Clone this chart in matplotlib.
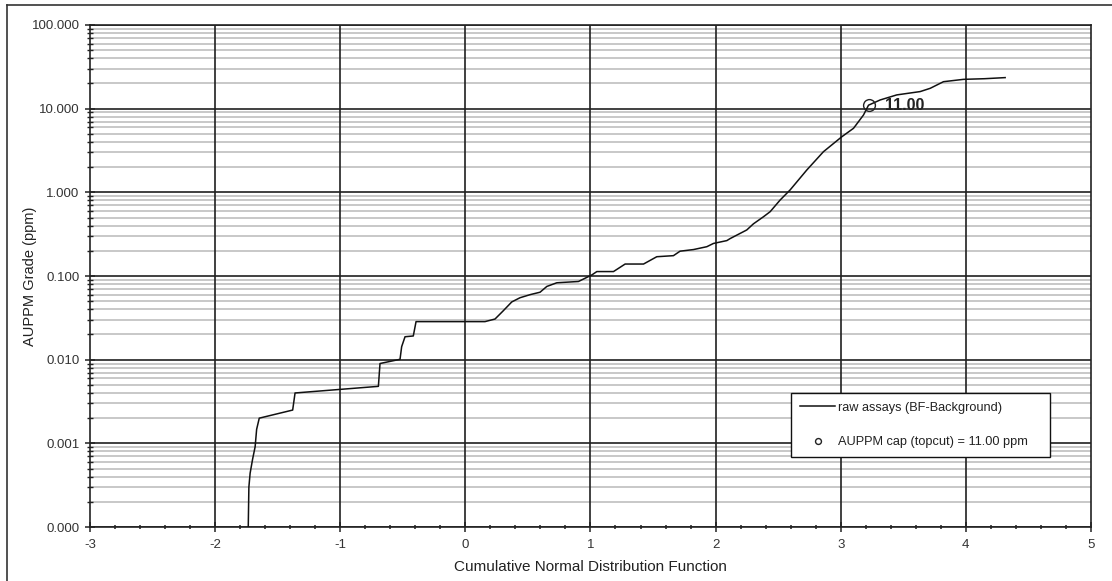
"""Log-probability plot of raw AUPPM assays with the topcut value marked."""
import matplotlib
matplotlib.use("Agg")
import numpy as np
import matplotlib.pyplot as plt
from matplotlib.lines import Line2D
from matplotlib.ticker import FixedLocator, FuncFormatter, LogLocator, NullFormatter

plt.rcParams["font.family"] = ["Liberation Sans", "DejaVu Sans"]
plt.rcParams["axes.unicode_minus"] = False

# curve (cumulative normal score, grade in ppm)
cnd = [-1.735, -1.730, -1.720, -1.700, -1.680, -1.668, -1.647, -1.380, -1.361,
       -0.695, -0.682, -0.522, -0.509, -0.482, -0.416, -0.394, 0.157, 0.237,
       0.300, 0.371, 0.437, 0.520, 0.597, 0.651, 0.731, 0.904, 1.011, 1.051,
       1.184, 1.277, 1.424, 1.530, 1.663, 1.716, 1.823, 1.930, 1.983, 2.090,
       2.116, 2.249, 2.302, 2.382, 2.436, 2.516, 2.596, 2.729, 2.862, 3.009,
       3.102, 3.182, 3.222, 3.315, 3.448, 3.635, 3.715, 3.821, 3.981, 4.150,
       4.314]
grade = [0.0001, 0.00030, 0.00044, 0.00065, 0.00091, 0.00147, 0.0020, 0.0025,
         0.0040, 0.0048, 0.0090, 0.0101, 0.0143, 0.0188, 0.0192, 0.0285, 0.0285,
         0.0306, 0.038, 0.049, 0.055, 0.060, 0.064, 0.075, 0.083, 0.086, 0.103,
         0.113, 0.113, 0.139, 0.139, 0.170, 0.175, 0.198, 0.207, 0.224, 0.245,
         0.265, 0.280, 0.355, 0.420, 0.510, 0.587, 0.810, 1.07, 1.85, 3.06, 4.62,
         5.82, 8.40, 11.0, 12.7, 14.6, 16.0, 17.5, 21.0, 22.4, 22.8, 23.5]

CAP_X = 3.222
CAP_VALUE = 11.0

X_TICKS = [-3, -2, -1, 0, 1, 2, 3, 4, 5]
Y_TICKS = [0.0001, 0.001, 0.01, 0.1, 1, 10, 100]


def main():
    fig = plt.figure(figsize=(11.12, 5.81), dpi=100)
    ax = fig.add_axes([0.0809, 0.0929, 0.9002, 0.8641])

    ax.set_yscale("log")
    ax.set_xlim(-3, 5)
    ax.set_ylim(0.0001, 100)

    # grids: grey minor, black major
    ax.yaxis.set_minor_locator(LogLocator(base=10, subs=np.arange(2, 10)))
    ax.yaxis.set_minor_formatter(NullFormatter())
    ax.yaxis.set_major_locator(FixedLocator(Y_TICKS))
    ax.yaxis.set_major_formatter(FuncFormatter(lambda v, p: f"{v:.3f}"))
    ax.xaxis.set_major_locator(FixedLocator(X_TICKS))
    minor_x = [v for v in np.round(np.arange(-3, 5.01, 0.2), 2) if v != round(v)]
    ax.xaxis.set_minor_locator(FixedLocator(minor_x))
    ax.grid(True, which="minor", axis="y", color="#c8c8c8", lw=1.4)
    ax.grid(True, which="major", axis="y", color="#202020", lw=1.2)
    ax.set_axisbelow(True)
    ax.vlines(X_TICKS[1:-1], 0, 1, transform=ax.get_xaxis_transform(),
              color="#202020", lw=1.2, zorder=1.5)

    ax.plot(cnd, grade, color="#111111", lw=1.1, zorder=3,
            label="raw assays (BF-Background)")
    ax.plot([CAP_X], [CAP_VALUE], ls="none", marker="o", ms=8.5, mfc="none",
            mec="#222222", mew=1.0, zorder=4, label="AUPPM cap (topcut) = 11.00 ppm")
    ax.text(CAP_X + 0.13, CAP_VALUE, f"{CAP_VALUE:.2f}", fontsize=11.5,
            fontweight="bold", color="#222222", va="center", ha="left", zorder=5)

    for s in ax.spines.values():
        s.set_color("#222222")
        s.set_linewidth(1.2)
    ax.tick_params(axis="both", which="major", labelsize=9.5, labelcolor="#333333",
                   length=7, width=1.1, color="#222222", direction="inout")
    ax.tick_params(axis="x", which="minor", length=3, width=1.1, direction="inout",
                   color="#222222")
    ax.tick_params(axis="y", which="minor", length=4, width=1.0, direction="inout",
                   color="#222222")
    ax.tick_params(axis="x", which="major", pad=5)
    ax.tick_params(axis="y", which="major", pad=4)

    ax.set_xlabel("Cumulative Normal Distribution Function", fontsize=11,
                  color="#222222")
    ax.xaxis.set_label_coords(0.5, -0.065)
    ax.set_ylabel("AUPPM Grade (ppm)", fontsize=10.5, color="#222222")
    ax.yaxis.set_label_coords(-0.053, 0.5)

    leg = ax.legend(loc="upper left", bbox_to_anchor=(0.700, 0.139, 0.259, 0.128),
                    mode="expand", fontsize=9.2, frameon=True, fancybox=False,
                    framealpha=1, edgecolor="#111111", handlelength=2.8,
                    labelspacing=1.75, borderpad=0.7, borderaxespad=0,
                    handletextpad=0.2, markerscale=0.5)
    leg.get_frame().set_linewidth(1.0)
    for t in leg.get_texts():
        t.set_color("#222222")

    # outer frame (left and top edges visible)
    fig.add_artist(Line2D([7 / 1112, 7 / 1112], [0, 1 - 5 / 581],
                          transform=fig.transFigure, color="#333333", lw=1.2))
    fig.add_artist(Line2D([7 / 1112, 1], [1 - 5 / 581, 1 - 5 / 581],
                          transform=fig.transFigure, color="#333333", lw=1.2))

    fig.savefig("out.png", dpi=100)
    plt.close(fig)


if __name__ == "__main__":
    main()
